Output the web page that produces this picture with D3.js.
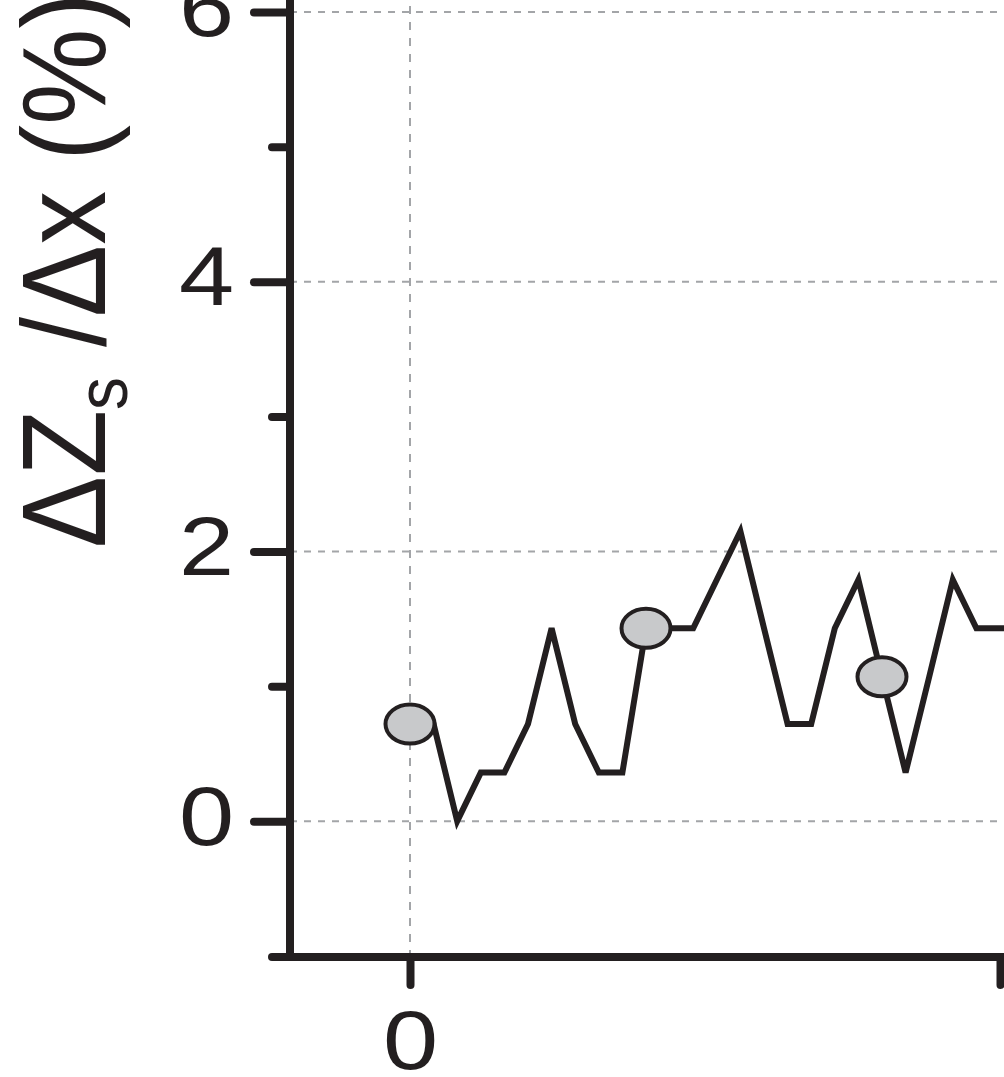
<!DOCTYPE html>
<html lang="en">
  <head>
    <meta charset="UTF-8">
    <script src="https://d3js.org/d3.v7.min.js"></script>
    <title>Slope profile</title>
    <style>
      body { margin: 0; background: #fff; }
      svg { display: block; }
      text { font-family: "Liberation Sans", Arial, sans-serif; fill: #231f20; }
    </style>
  </head>
  <body>
    <div id="chart"></div>
    <script>
      // distance along profile and slope values
      const distance = [0, 0.2, 0.4, 0.6, 0.8, 1.0, 1.2, 1.4, 1.6, 1.8,
                        2.0, 2.2, 2.4, 2.6, 2.8, 3.0, 3.2, 3.4, 3.6, 3.8,
                        4.0, 4.2, 4.4, 4.6, 4.8, 5.0, 5.2];
      const slope = [0.72, 0.72, 0, 0.36, 0.36, 0.72, 1.43, 0.72, 0.36, 0.36,
                     1.43, 1.43, 1.43, 1.79, 2.15, 1.43, 0.72, 0.72, 1.43, 1.79,
                     1.07, 0.36, 1.07, 1.79, 1.43, 1.43, 1.43];
      // marked points
      const markerX = [0, 2, 4];
      const markerY = [0.72, 1.43, 1.07];

      const yMajor = [0, 2, 4, 6];
      const yMinor = [1, 3, 5];
      const xTicks = [0, 5];
      const yGrid = [0, 2, 4, 6];
      const xGrid = [0];

      const width = 1004;
      const height = 1077;
      const ink = "#231f20";
      const axisX = 290;   // y axis position (px)
      const axisY = 957;   // x axis position (px)

      const x = d3.scaleLinear().domain([0, 5]).range([410, 1000]);
      const y = d3.scaleLinear().domain([-1, 6]).range([956, 12]);

      const svg = d3.select("#chart").append("svg")
                    .attr("width", width)
                    .attr("height", height);

      // grid
      svg.append("g").selectAll("line")
         .data(yGrid).enter().append("line")
         .attr("x1", axisX).attr("x2", width + 20)
         .attr("y1", d => y(d)).attr("y2", d => y(d))
         .attr("stroke", "#a3a5a8").attr("stroke-width", 2)
         .attr("stroke-dasharray", "7,7");

      svg.append("g").selectAll("line")
         .data(xGrid).enter().append("line")
         .attr("x1", d => x(d)).attr("x2", d => x(d))
         .attr("y1", -10).attr("y2", axisY)
         .attr("stroke", "#a3a5a8").attr("stroke-width", 2)
         .attr("stroke-dasharray", "8,8");

      // y axis ticks via d3 axis
      const yAxis = d3.axisLeft(y).tickValues(yMajor).tickSize(36).tickSizeOuter(0)
                      .tickFormat(d3.format("d"));
      const gy = svg.append("g").attr("transform", "translate(" + axisX + ",0)").call(yAxis);
      gy.select(".domain").remove();
      gy.selectAll(".tick line").attr("stroke", ink).attr("stroke-width", 8).attr("stroke-linecap", "round");
      gy.selectAll(".tick text")
        .attr("font-size", 84).attr("fill", ink)
        .attr("dy", null).attr("y", 0).attr("x", 0)
        .attr("transform", "translate(-56,23) scale(1.18,1)");

      const yAxisMinor = d3.axisLeft(y).tickValues(yMinor).tickSize(18).tickFormat("");
      const gym = svg.append("g").attr("transform", "translate(" + axisX + ",0)").call(yAxisMinor);
      gym.select(".domain").remove();
      gym.selectAll(".tick line").attr("stroke", ink).attr("stroke-width", 8).attr("stroke-linecap", "round");

      // x axis ticks
      const xAxis = d3.axisBottom(x).tickValues(xTicks).tickSize(28).tickSizeOuter(0)
                      .tickFormat(d => d === 0 ? "0" : "");
      const gx = svg.append("g").attr("transform", "translate(0," + axisY + ")").call(xAxis);
      gx.select(".domain").remove();
      gx.selectAll(".tick line").attr("stroke", ink).attr("stroke-width", 8).attr("stroke-linecap", "round");
      gx.selectAll(".tick text")
        .attr("font-size", 84).attr("fill", ink)
        .attr("dy", null).attr("y", 0)
        .attr("transform", "translate(0,112) scale(1.18,1)");

      // axis lines
      svg.append("line")
         .attr("x1", axisX).attr("x2", axisX)
         .attr("y1", -10).attr("y2", axisY)
         .attr("stroke", ink).attr("stroke-width", 8);
      svg.append("line")
         .attr("x1", 272).attr("x2", width + 20)
         .attr("y1", axisY).attr("y2", axisY)
         .attr("stroke", ink).attr("stroke-width", 8).attr("stroke-linecap", "round");

      // profile line
      const line = d3.line().x((d, i) => x(distance[i])).y(d => y(d));
      svg.append("path")
         .datum(slope)
         .attr("d", line)
         .attr("fill", "none")
         .attr("stroke", ink)
         .attr("stroke-width", 6)
         .attr("stroke-linejoin", "miter");

      // markers
      svg.append("g").selectAll("ellipse")
         .data(markerX).enter().append("ellipse")
         .attr("cx", d => x(d))
         .attr("cy", (d, i) => y(markerY[i]))
         .attr("rx", 24.5).attr("ry", 19.5)
         .attr("fill", "#c8c9cb")
         .attr("stroke", ink).attr("stroke-width", 4);

      // y label
      const label = svg.append("text")
                       .attr("transform", "translate(105,548) scale(1.1,1) rotate(-90)")
                       .attr("font-size", 108);
      label.append("tspan").text("\u0394Z");
      label.append("tspan").attr("font-size", 66).attr("dy", 20).text("s");
      label.append("tspan").attr("dy", -20).text(" /\u0394x (%)");
    </script>
  </body>
</html>
